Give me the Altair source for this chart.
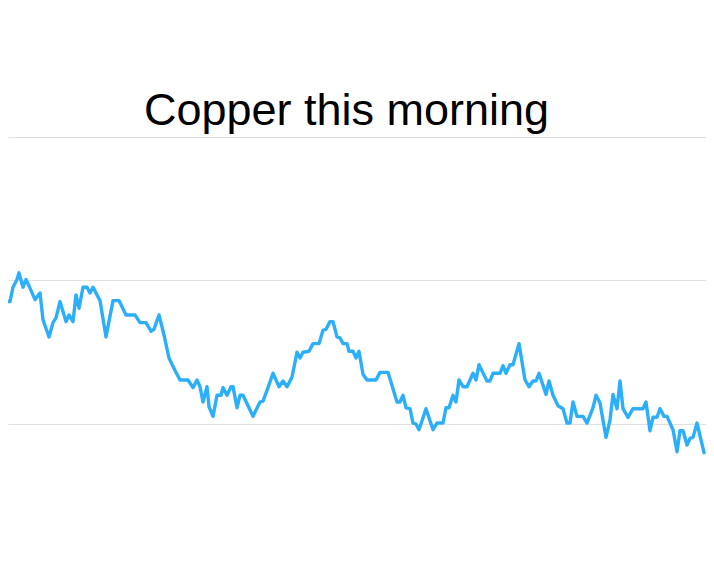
import altair as alt
import pandas as pd

title_text = "Copper this morning"

# minutes after 08:00
minutes = [
    0.0, 0.9, 2.1, 3.0, 3.9, 5.1, 5.7, 6.9, 7.8, 9.0,
    10.5, 12.0, 12.9, 14.7, 15.9, 16.8, 18.0, 19.8, 20.7, 21.9,
    22.8, 23.7, 24.9, 26.1, 27.0, 27.9, 30.0, 31.8, 33.9, 35.7,
    37.8, 40.5, 42.0, 43.8, 45.3, 46.2, 47.7, 49.2, 50.7, 52.5,
    54.0, 56.4, 57.9, 59.1, 60.0, 60.9, 62.1, 62.7, 63.9, 65.1,
    66.3, 66.9, 68.1, 69.3, 69.9, 71.1, 72.0, 72.9, 75.9, 78.0,
    78.9, 80.4, 81.9, 83.7, 84.9, 86.1, 87.6, 89.1, 90.0, 90.9,
    92.7, 93.9, 95.7, 96.9, 97.8, 99.0, 99.9, 101.1, 102.0, 102.9,
    104.1, 104.7, 105.9, 106.8, 107.7, 108.9, 110.1, 112.8, 114.0, 116.4,
    119.1, 120.0, 120.9, 121.8, 123.0, 123.9, 124.8, 125.7, 127.8, 129.9,
    131.1, 132.9, 133.8, 134.7, 135.9, 136.8, 137.7, 138.9, 140.1, 141.9,
    142.8, 143.7, 146.1, 147.0, 147.9, 150.0, 150.9, 151.8, 153.0, 153.9,
    155.7, 157.5, 158.7, 159.9, 160.8, 161.7, 163.8, 164.7, 165.9, 167.4,
    168.9, 170.1, 171.0, 171.9, 173.1, 174.9, 176.1, 177.9, 178.8, 180.0,
    181.8, 183.0, 183.9, 185.1, 186.0, 186.9, 188.4, 189.9, 192.9, 193.8,
    195.0, 195.9, 197.1, 198.0, 199.2, 200.1, 201.9, 203.1, 204.0, 204.9,
    206.1, 207.0, 207.9, 209.1, 211.2,
]

# price, USD per tonne
price = [
    9537, 9537, 9528, 9528, 9543, 9551, 9558, 9543, 9551, 9542,
    9530, 9537, 9509, 9491, 9506, 9511, 9528, 9507, 9514, 9507,
    9535, 9521, 9543, 9543, 9537, 9543, 9529, 9491, 9529, 9529,
    9514, 9514, 9506, 9506, 9497, 9499, 9514, 9493, 9469, 9456,
    9446, 9446, 9438, 9446, 9439, 9423, 9439, 9418, 9408, 9430,
    9430, 9438, 9430, 9439, 9439, 9417, 9430, 9430, 9408, 9423,
    9424, 9438, 9453, 9439, 9445, 9439, 9449, 9475, 9469, 9475,
    9476, 9484, 9484, 9498, 9499, 9507, 9507, 9491, 9490, 9484,
    9484, 9476, 9476, 9469, 9476, 9452, 9446, 9446, 9454, 9454,
    9423, 9423, 9430, 9417, 9416, 9401, 9400, 9394, 9416, 9394,
    9401, 9401, 9417, 9417, 9430, 9423, 9446, 9439, 9439, 9453,
    9446, 9462, 9445, 9445, 9453, 9453, 9461, 9453, 9462, 9462,
    9484, 9446, 9439, 9445, 9445, 9453, 9431, 9445, 9430, 9419,
    9416, 9401, 9401, 9423, 9408, 9408, 9401, 9417, 9430, 9422,
    9386, 9404, 9431, 9416, 9445, 9416, 9407, 9416, 9416, 9423,
    9393, 9407, 9407, 9416, 9408, 9408, 9394, 9371, 9393, 9393,
    9378, 9385, 9386, 9401, 9370,
]

grid_values = [9400, 9550, 9700]

df = pd.DataFrame({"minute": minutes, "price": price})

x_enc = alt.X(
    "minute:Q",
    scale=alt.Scale(domain=[2.4, 211.8], nice=False, zero=False),
    axis=None,
)
y_enc = alt.Y(
    "price:Q",
    scale=alt.Scale(domain=[9262.02, 9834.84], nice=False, zero=False),
    axis=alt.Axis(
        values=grid_values,
        grid=True,
        labels=False,
        ticks=False,
        domain=False,
        title=None,
        gridColor="#e0e0e0",
        gridWidth=1,
    ),
)

line = (
    alt.Chart(df)
    .mark_line(color="#2caffa", strokeWidth=3.4, clip=True,
               strokeJoin="round", strokeCap="round")
    .encode(x=x_enc, y=y_enc)
)

title = (
    alt.Chart(pd.DataFrame({"t": [title_text]}))
    .mark_text(font="Liberation Sans", fontSize=45, align="center",
               baseline="alphabetic", color="black")
    .encode(text="t:N", x=alt.value(338.5), y=alt.value(117))
)

chart = (
    alt.layer(line, title)
    .properties(width=698, height=548, padding=0, autosize="none")
    .configure_view(stroke=None)
)

chart.save("out.html", embed_options={"renderer": "svg", "actions": False})
